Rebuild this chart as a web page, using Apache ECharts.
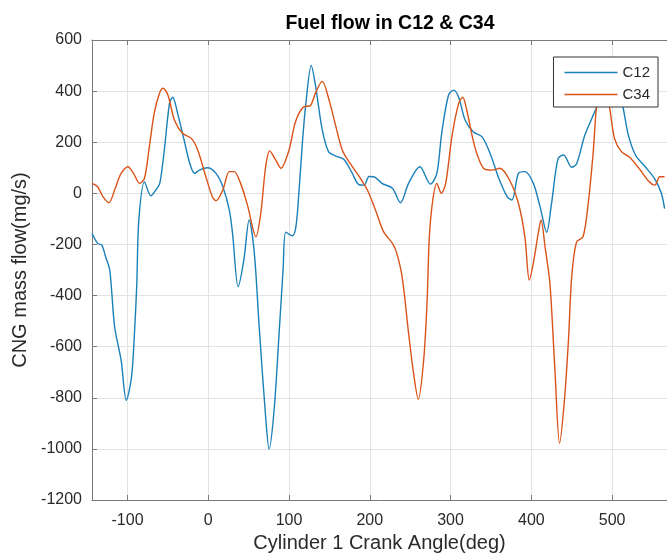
<!DOCTYPE html>
<html>
<head>
<meta charset="utf-8">
<script src="https://cdn.jsdelivr.net/npm/echarts@6/dist/echarts.min.js"></script>
<style>html,body{margin:0;padding:0;background:#fff}#c{width:667px;height:559px}</style>
</head>
<body>
<div id="c"></div>
<script>
const xTicks = [-100, 0, 100, 200, 300, 400, 500];
const yTicks = [-1200, -1000, -800, -600, -400, -200, 0, 200, 400, 600];
const seriesNames = ['C12', 'C34'];
const c12 = [
  [-144,-156],[-137,-196],[-132,-202],[-127,-250],[-122,-300],[-116,-522],[-108,-652],[-101.5,-810],
  [-95,-717],[-91,-522],[-88.5,-351],[-86,-104],[-79,45],[-71,-10],[-65,13],[-60,40],[-54,182],
  [-48,353],[-44,376],[-38,313],[-30,209],[-23,118],[-17,78],[-11,91],[-1,100],[9.5,78],[18,26],
  [26,-65],[30,-156],[37,-365],[44,-261],[50.6,-104],[57,-234],[63,-522],[71,-874],[75.3,-1001],
  [81.5,-848],[87.7,-547],[92.6,-300],[96,-152],[104,-166],[108,-140],[111,-50],[116.5,196],
  [120.6,345],[127.5,500],[133,417],[141,250],[149,162],[158,146],[168,132],[178,80],[186,35],
  [193,32],[199,66],[205,65],[215,39],[228,20],[238,-37],[248,39],[262,104],[275,36],[283,78],
  [289,235],[297.5,385],[304,404],[310,376],[318,287],[328,241],[339,221],[349,156],[359,65],
  [370,-13],[376,-26],[384,78],[392,85],[402.5,39],[411,-55],[419,-152],[425,-40],[433,135],
  [440,150],[450,102],[456,115],[466,225],[474.5,290],[481,339],[488,420],[495,455],[502,440],
  [508,390],[513.6,335],[520,230],[529,150],[541,104],[553,56],[561,0],[565,-60]
];
const c34 = [
  [-144,39],[-137,26],[-130.5,-13],[-123,-37],[-116,13],[-108,78],[-99.6,104],[-92.6,78],[-85,39],
  [-79,59],[-73,182],[-67,313],[-60.5,391],[-56,411],[-50,385],[-42,287],[-32,235],[-21,215],
  [-13,169],[-3,65],[5,-13],[9.5,-29],[18,13],[26,85],[32,85],[40,39],[48.5,-46],[59,-170],
  [65,-78],[71,104],[76,166],[83.6,130],[90,98],[100,170],[108,280],[118.5,339],[126,342],
  [133,395],[141,438],[150,360],[158,261],[166,169],[175,120],[186,70],[197,13],[207,-65],
  [217,-150],[228,-196],[233,-230],[240,-326],[248,-547],[254,-700],[260,-806],[266.7,-652],
  [271,-417],[273.7,-170],[278,-26],[283,39],[288.5,0],[294,39],[301.6,221],[310,352],[315,376],
  [320,326],[330,182],[340.7,98],[351,91],[361,98],[373,52],[384,-39],[392,-170],[397.5,-339],
  [402.5,-273],[408.6,-156],[412,-104],[417,-209],[423,-352],[429,-678],[435,-978],[441,-809],
  [446,-574],[450,-326],[456,-190],[464,-170],[470,-52],[476.5,156],[480.6,333],[485,400],
  [489,420],[493,390],[497,333],[503,215],[511.5,163],[522,140],[534,95],[546,45],[553,32],
  [559,65],[565,65]
];

const chart = echarts.init(document.getElementById('c'), null, {renderer: 'canvas'});
const axisColor = '#7a7a7a';
const textColor = '#2a2a2a';
const font = 'Liberation Sans, Arial, sans-serif';
chart.setOption({
  animation: false,
  backgroundColor: '#fff',
  title: {
    text: 'Fuel flow in C12 & C34',
    left: 385, top: 9, textAlign: 'center',
    textStyle: {fontFamily: font, fontSize: 19.5, fontWeight: 'bold', color: '#000'}
  },
  legend: {
    data: seriesNames,
    orient: 'vertical',
    right: 9, top: 57,
    backgroundColor: '#fff',
    borderColor: '#333',
    borderWidth: 1,
    borderRadius: 0,
    padding: [8, 8, 5, 11],
    itemWidth: 53, itemHeight: 1.5, itemGap: 7,
    icon: 'rect',
    textStyle: {fontFamily: font, fontSize: 15, color: textColor}
  },
  grid: {left: 92, right: -2, top: 40, bottom: 59, containLabel: false},
  xAxis: [{
    type: 'value', min: -144, max: 568,
    name: 'Cylinder 1 Crank Angle(deg)', nameLocation: 'middle', nameGap: 33,
    nameTextStyle: {fontFamily: font, fontSize: 20, color: textColor},
    axisLine: {show: true, onZero: false, lineStyle: {color: axisColor, width: 1}},
    axisTick: {show: true, inside: true, length: 5, customValues: xTicks, lineStyle: {color: axisColor}},
    axisLabel: {customValues: xTicks, margin: 13, fontFamily: font, fontSize: 16, color: textColor,
      formatter: v => String(v)},
    splitLine: {show: true, lineStyle: {color: '#e3e3e3', width: 1}}
  }, {
    type: 'value', position: 'top', min: -144, max: 568,
    axisLine: {show: true, onZero: false, lineStyle: {color: axisColor, width: 1}},
    axisTick: {show: true, inside: true, length: 5, customValues: xTicks, lineStyle: {color: axisColor}},
    axisLabel: {show: false},
    splitLine: {show: false}
  }],
  yAxis: {
    type: 'value', min: yTicks[0], max: yTicks[yTicks.length - 1], interval: 200,
    name: 'CNG mass flow(mg/s)', nameLocation: 'middle', nameGap: 61,
    nameTextStyle: {fontFamily: font, fontSize: 20, color: textColor},
    axisLine: {show: true, onZero: false, lineStyle: {color: axisColor, width: 1}},
    axisTick: {show: true, inside: true, length: 5, lineStyle: {color: axisColor}},
    axisLabel: {margin: 10, fontFamily: font, fontSize: 16, color: textColor,
      formatter: v => String(v)},
    splitLine: {show: true, lineStyle: {color: '#e3e3e3', width: 1}}
  },
  series: [{
    name: seriesNames[0], type: 'line', data: c12, showSymbol: false, symbol: 'none', xAxisIndex: 0,
    smooth: 0.3, lineStyle: {color: '#1a80b8', width: 1.4}, itemStyle: {color: '#1a80b8'}
  }, {
    name: seriesNames[1], type: 'line', data: c34, showSymbol: false, symbol: 'none', xAxisIndex: 0,
    smooth: 0.3, lineStyle: {color: '#D95319', width: 1.4}, itemStyle: {color: '#D95319'}
  }]
});
</script>
</body>
</html>
